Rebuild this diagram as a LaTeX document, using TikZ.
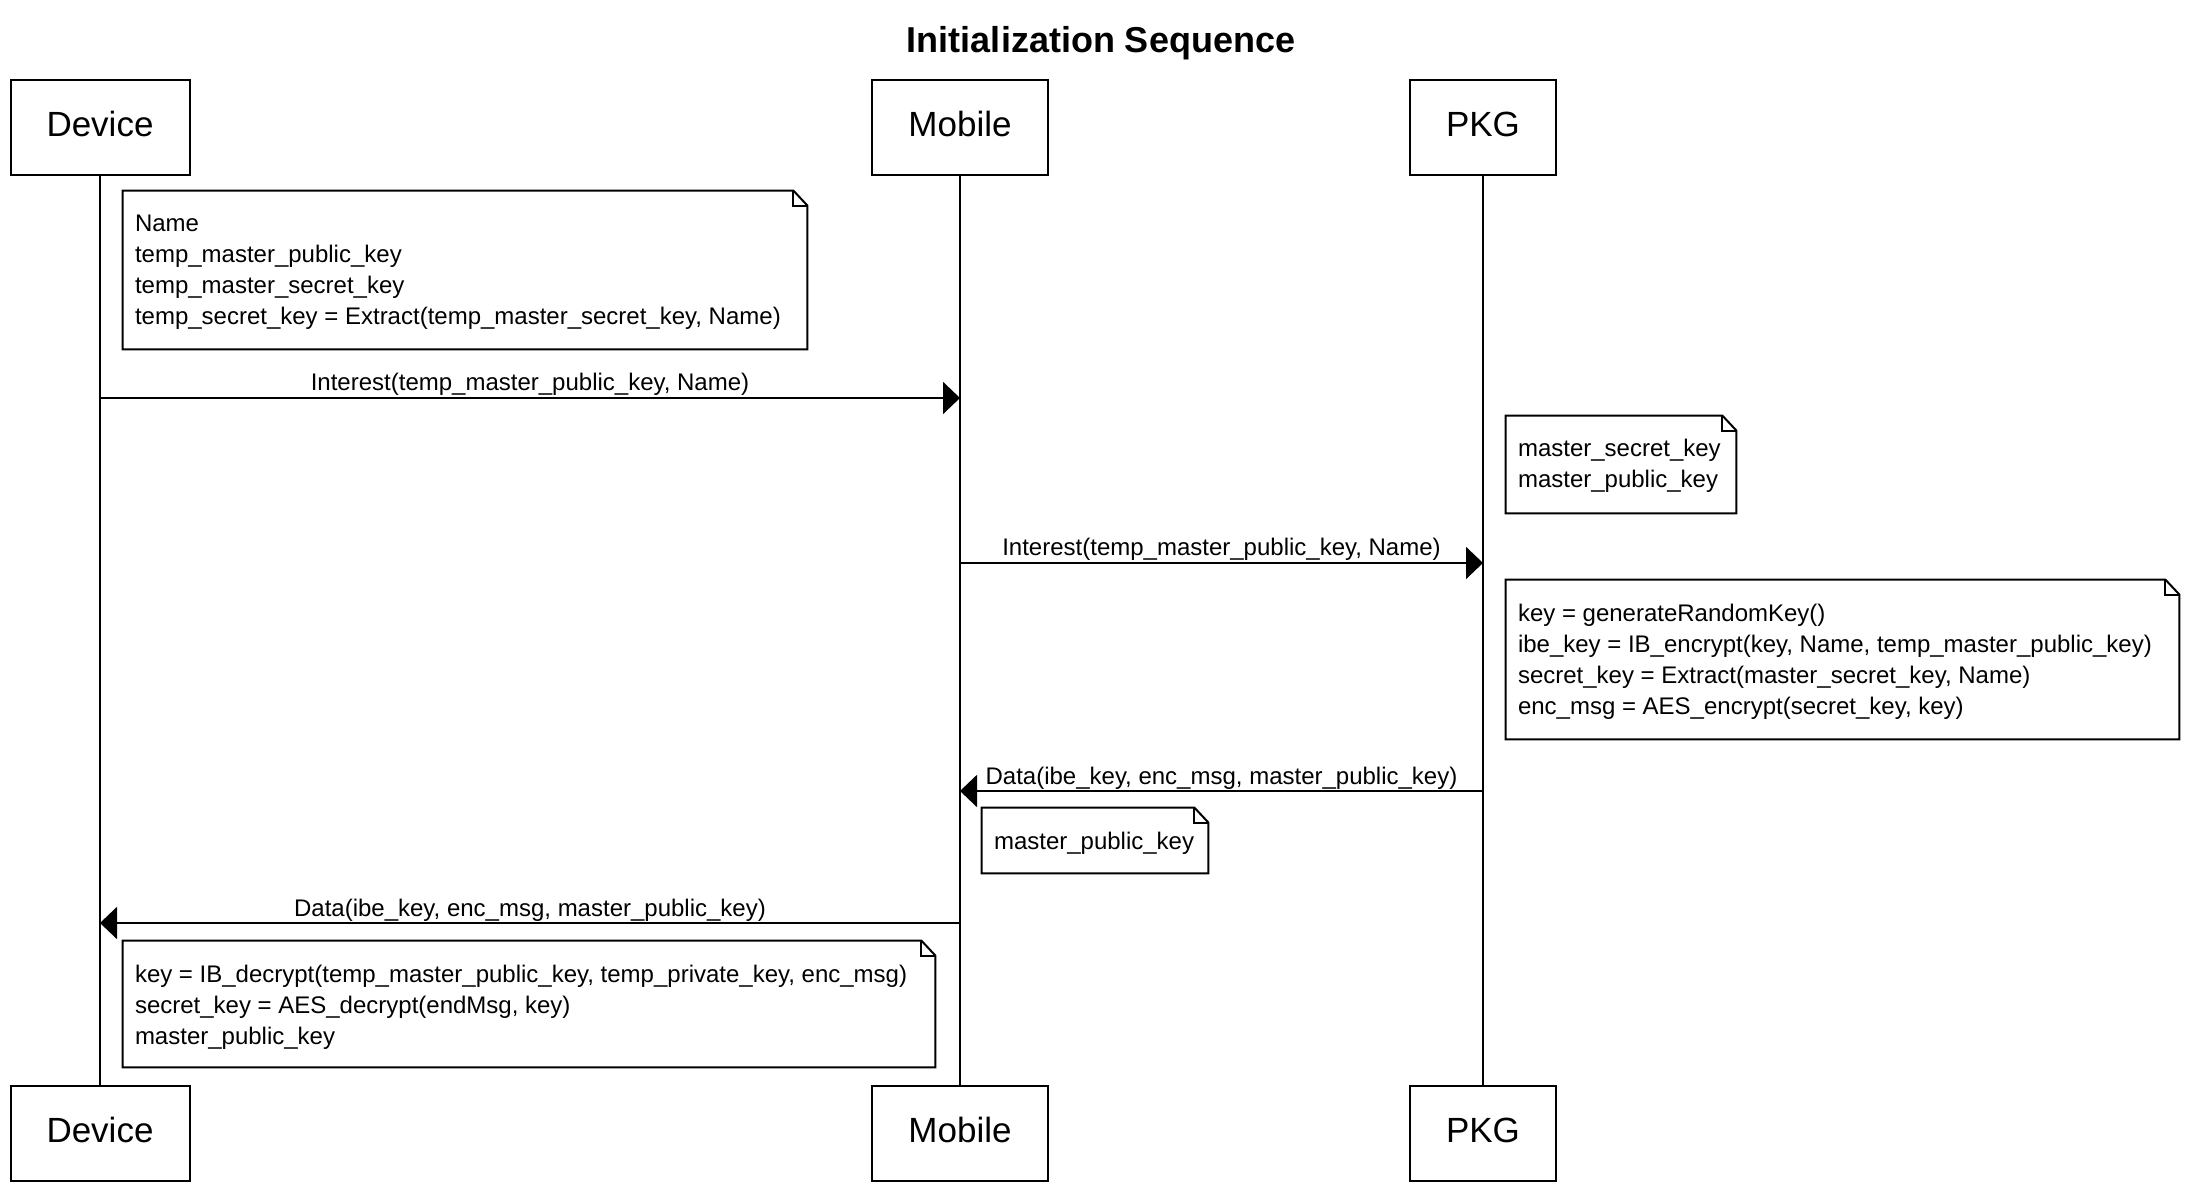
\documentclass[tikz,border=0pt]{standalone}
\usepackage{fontspec}
\setmainfont{Liberation Sans}
\usetikzlibrary{arrows.meta,fit}
\tikzset{
  participant/.style={draw, line width=1pt, minimum height=47.5pt, inner sep=0pt,
    text height=12.5pt, text depth=3pt,
    font=\fontsize{17.5}{20}\selectfont},
  lifeline/.style={line width=0.7pt},
  msg/.style={line width=1pt, -{Triangle[length=8.5pt,width=16pt]}},
  msglabel/.style={anchor=base, yshift=3.5pt, inner sep=0pt, font=\fontsize{12}{15.5}\selectfont},
  notedraw/.style={line width=1pt, line join=miter},
  notetext/.style={anchor=north west, inner sep=0pt, align=left, font=\fontsize{12}{15.5}\selectfont},
}
\newcommand\umlnote[6]{%
  \coordinate (#1-a) at (#2,#3);
  \coordinate (#1-b) at (#4,#5);
  \node[fit=(#1-a)(#1-b), inner sep=0pt] (#1) {};
  \draw[notedraw] (#1.north west) -- ([xshift=-7pt]#1.north east) -- ([yshift=-7.5pt]#1.north east) -- (#1.south east) -- (#1.south west) -- cycle;
  \draw[notedraw] ([xshift=-7pt]#1.north east) |- ([yshift=-7.5pt]#1.north east);
  \node[notetext] (#1-t) at ([shift={(12,21)}]#1.north west) {\rule{0pt}{10pt}#6};
}
\begin{document}
\begin{tikzpicture}[x=0.5pt, y=-0.5pt]
\fill[white] (0,0) rectangle (2208,1192);
\useasboundingbox (0,0) rectangle (2208,1192);

\node[anchor=base, font=\bfseries\fontsize{18}{22}\selectfont] (title) at (1101,53) {Initialization Sequence};

% participants
\node[participant, minimum width=89.5pt] (dev) at (100,127.5) {Device};
\node[participant, minimum width=88pt] (mob) at (960,127.5) {Mobile};
\node[participant, minimum width=73pt] (pkg) at (1483,127.5) {PKG};
\node[participant, minimum width=89.5pt] (devb) at (100,1133) {Device};
\node[participant, minimum width=88pt] (mobb) at (960,1133) {Mobile};
\node[participant, minimum width=73pt] (pkgb) at (1483,1133) {PKG};

\draw[lifeline] (dev.south) -- (devb.north);
\draw[lifeline] (mob.south) -- (mobb.north);
\draw[lifeline] (pkg.south) -- (pkgb.north);

% notes
\umlnote{n1}{123}{191}{807}{349}{Name\\temp\_master\_public\_key\\temp\_master\_secret\_key\\temp\_secret\_key = Extract(temp\_master\_secret\_key, Name)}
\umlnote{n2}{1506}{416}{1736}{513}{master\_secret\_key\\master\_public\_key}
\umlnote{n3}{1506}{580}{2179}{739}{key = generateRandomKey()\\ibe\_key = IB\_encrypt(key, Name, temp\_master\_public\_key)\\secret\_key = Extract(master\_secret\_key, Name)\\enc\_msg = AES\_encrypt(secret\_key, key)}
\umlnote{n4}{982}{808}{1208}{873}{master\_public\_key}
\umlnote{n5}{123}{941}{935}{1067}{key = IB\_decrypt(temp\_master\_public\_key, temp\_private\_key, enc\_msg)\\secret\_key = AES\_decrypt(endMsg, key)\\master\_public\_key}

% message anchors on lifelines
\coordinate (d1) at (100,398);
\coordinate (m1) at (960,398);
\coordinate (m2) at (960,563);
\coordinate (p2) at (1483,563);
\coordinate (p3) at (1483,791);
\coordinate (m3) at (960,791);
\coordinate (m4) at (960,923);
\coordinate (d4) at (100,923);

\draw[msg] (d1) -- node[msglabel, midway] (l1) {Interest(temp\_master\_public\_key, Name)} (m1);
\draw[msg] (m2) -- node[msglabel, midway] (l2) {Interest(temp\_master\_public\_key, Name)} (p2);
\draw[msg] (p3) -- node[msglabel, midway] (l3) {Data(ibe\_key, enc\_msg, master\_public\_key)} (m3);
\draw[msg] (m4) -- node[msglabel, midway] (l4) {Data(ibe\_key, enc\_msg, master\_public\_key)} (d4);
\end{tikzpicture}
\end{document}
